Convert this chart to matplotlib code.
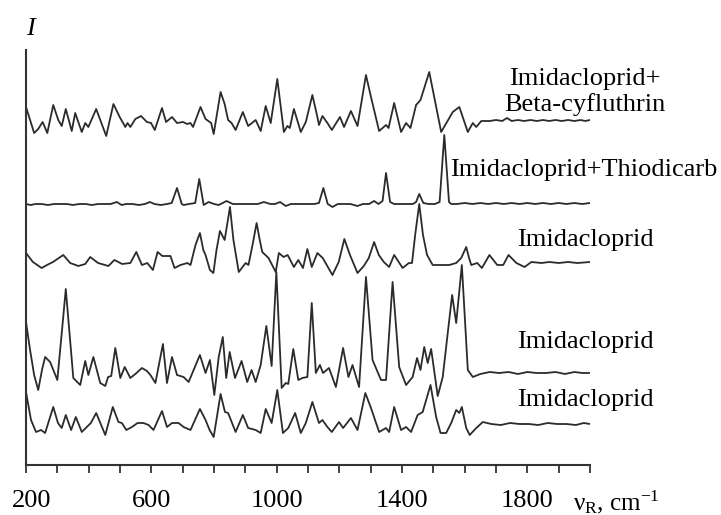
import matplotlib
matplotlib.use("Agg")
import matplotlib.pyplot as plt
from matplotlib.transforms import ScaledTranslation

plt.rcParams['font.family'] = ['Liberation Serif', 'DejaVu Serif']
plt.rcParams['mathtext.fontset'] = 'custom'
plt.rcParams['mathtext.rm'] = 'Liberation Serif'
plt.rcParams['mathtext.it'] = 'Liberation Serif:italic'

# Raman shift (cm-1) and intensity (arb. units), top to bottom
beta_w = [200, 226, 239, 253, 268, 287, 303, 314, 327, 346, 357, 378, 389, 399, 424, 456, 479, 499,
          517, 524, 533, 549, 567, 586, 599, 611, 634, 647, 666, 682, 701, 714, 725, 733, 757, 773,
          791, 799, 821, 834, 845, 856, 869, 892, 909, 933, 949, 965, 981, 1002, 1023, 1034, 1042,
          1055, 1077, 1093, 1114, 1130, 1135, 1146, 1162, 1176, 1202, 1215, 1237, 1258, 1285, 1301,
          1327, 1349, 1357, 1375, 1397, 1413, 1427, 1445, 1459, 1487, 1525, 1562, 1583, 1610, 1626,
          1637, 1653, 1680, 1700, 1720, 1735, 1750, 1770, 1790, 1810, 1830, 1850, 1870, 1890, 1910,
          1930, 1950, 1970, 1985, 2000]
beta_i = [30, 4, 8, 15, 4, 32, 17, 11, 28, 6, 24, 5, 14, 10, 28, 1, 33, 20,
          10, 14, 10, 18, 21, 15, 14, 7, 29, 15, 20, 14, 15, 13, 14, 10, 30, 18,
          14, 3, 45, 33, 17, 14, 7, 25, 11, 17, 6, 31, 14, 58, 5, 11, 9,
          28, 5, 15, 42, 20, 12, 21, 14, 7, 20, 10, 26, 11, 62, 40,
          6, 12, 9, 34, 5, 14, 9, 32, 37, 65, 5, 25, 30, 5, 14,
          10, 16, 16, 17, 16, 19, 16, 17, 16, 17, 16, 17, 16, 17, 16,
          17, 16, 17, 16, 17]

thio_w = [200, 215, 230, 250, 270, 290, 310, 330, 350, 370, 390, 410, 430, 450, 470, 490, 505, 520,
          540, 560, 580, 595, 610, 630, 650, 665, 682, 697, 703, 720, 740, 753, 767, 783, 800, 815,
          840, 860, 880, 900, 920, 940, 959, 980, 995, 1011, 1029, 1045, 1060, 1080, 1100, 1120,
          1135, 1149, 1163, 1178, 1195, 1215, 1235, 1258, 1275, 1295, 1311, 1325, 1338, 1349, 1362,
          1375, 1395, 1415, 1435, 1445, 1455, 1468, 1485, 1505, 1520, 1535, 1550, 1557, 1575, 1600,
          1625, 1650, 1675, 1700, 1725, 1750, 1775, 1800, 1825, 1850, 1875, 1900, 1925, 1950, 1975,
          2000]
thio_i = [3, 2, 3, 3, 2, 3, 3, 3, 2, 3, 3, 2, 3, 3, 3, 5, 2, 3,
          3, 2, 3, 5, 3, 2, 3, 4, 19, 3, 2, 3, 4, 28, 2, 5, 3, 2,
          6, 3, 3, 3, 3, 3, 5, 3, 3, 5, 1, 3, 3, 3, 3, 3,
          4, 19, 3, 0, 3, 3, 3, 1, 3, 3, 6, 3, 6, 34, 5,
          3, 3, 3, 3, 5, 13, 4, 3, 3, 5, 72, 5, 3, 3, 4,
          3, 4, 3, 4, 3, 4, 3, 4, 3, 4, 3, 4, 3, 4, 3,
          4]

imid1_w = [200, 222, 250, 267, 286, 319, 341, 367, 389, 405, 430, 463, 482, 507, 533, 552, 570, 587,
           605, 620, 635, 661, 674, 693, 715, 725, 741, 755, 766, 773, 787, 798, 808, 819, 834, 851,
           862, 879, 901, 910, 923, 936, 946, 954, 974, 997, 1007, 1022, 1035, 1055, 1069, 1084,
           1098, 1112, 1130, 1147, 1178, 1198, 1216, 1234, 1258, 1278, 1294, 1311, 1326, 1342, 1359,
           1375, 1402, 1422, 1432, 1442, 1455, 1467, 1480, 1498, 1515, 1551, 1573, 1589, 1605, 1614,
           1621, 1640, 1655, 1679, 1704, 1723, 1740, 1765, 1791, 1813, 1845, 1870, 1900, 1930, 1960,
           2000]
imid1_i = [23, 14, 8, 11, 14, 21, 13, 10, 12, 19, 13, 10, 16, 12, 13, 24, 11, 13,
           6, 24, 20, 20, 8, 11, 13, 11, 31, 43, 26, 21, 6, 3, 26, 45, 36, 69,
           36, 4, 13, 11, 31, 53, 36, 24, 18, 4, 23, 19, 21, 9, 16, 8,
           27, 9, 23, 18, 1, 14, 37, 21, 3, 10, 18, 34, 21, 14, 9,
           21, 8, 13, 13, 41, 72, 41, 21, 11, 11, 11, 13, 18, 29, 18,
           11, 13, 8, 21, 11, 11, 21, 13, 9, 14, 13, 14, 13, 14, 13,
           14]

imid2_w = [200, 213, 226, 239, 251, 261, 277, 300, 315, 327, 338, 351, 373, 389, 399, 415, 437, 453,
           462, 472, 485, 501, 515, 533, 549, 570, 586, 597, 613, 637, 650, 666, 682, 703, 719, 735,
           755, 773, 787, 801, 815, 828, 839, 850, 867, 888, 906, 920, 933, 949, 967, 984, 999,
           1016, 1029, 1037, 1053, 1069, 1082, 1098, 1112, 1125, 1138, 1148, 1167, 1189, 1212, 1229,
           1242, 1263, 1285, 1306, 1333, 1349, 1370, 1391, 1413, 1434, 1448, 1459, 1471, 1482, 1493,
           1514, 1530, 1546, 1560, 1573, 1591, 1610, 1626, 1650, 1680, 1710, 1740, 1770, 1800, 1830,
           1860, 1890, 1920, 1950, 1975, 2000]
imid2_i = [75, 47, 22, 7, 27, 40, 35, 17, 67, 108, 67, 19, 12, 36, 22, 40, 14, 11,
           20, 21, 49, 19, 30, 19, 23, 29, 26, 22, 14, 53, 14, 40, 22, 20, 15, 27,
           42, 24, 37, 2, 40, 60, 19, 45, 19, 36, 15, 27, 15, 32, 71, 31, 125,
           9, 14, 13, 48, 17, 19, 20, 94, 24, 32, 24, 29, 10, 49, 20,
           32, 10, 120, 37, 17, 17, 115, 30, 12, 20, 39, 27, 50, 34, 48,
           1, 20, 64, 102, 74, 132, 27, 20, 23, 25, 24, 25, 23, 25, 24,
           24, 25, 23, 25, 24, 24]

imid3_w = [200, 216, 232, 248, 261, 287, 302, 314, 327, 344, 359, 378, 394, 407, 424, 453, 477, 495,
           506, 520, 538, 556, 575, 591, 607, 634, 650, 666, 687, 703, 725, 755, 773, 786, 799, 821,
           835, 845, 869, 892, 909, 933, 949, 965, 984, 1002, 1020, 1037, 1059, 1077, 1093, 1114,
           1135, 1146, 1162, 1176, 1199, 1212, 1237, 1258, 1283, 1301, 1327, 1349, 1359, 1375, 1397,
           1413, 1429, 1450, 1466, 1491, 1509, 1523, 1541, 1557, 1573, 1583, 1591, 1605, 1616, 1637,
           1658, 1685, 1715, 1745, 1775, 1805, 1835, 1865, 1895, 1925, 1955, 1980, 2000]
imid3_i = [46, 18, 6, 8, 5, 31, 15, 10, 23, 8, 21, 6, 11, 15, 25, 3, 31, 16,
           15, 8, 11, 15, 15, 13, 8, 27, 11, 15, 15, 11, 8, 29, 18, 8, 1, 44,
           26, 25, 6, 23, 10, 8, 5, 29, 15, 48, 5, 10, 25, 5, 15, 36,
           15, 18, 11, 6, 16, 10, 20, 8, 45, 30, 6, 10, 6, 31, 8,
           11, 6, 23, 26, 53, 21, 5, 5, 15, 28, 25, 31, 10, 3, 10,
           16, 14, 13, 15, 14, 14, 13, 15, 14, 14, 13, 15, 14]

labels = ['Imidacloprid+\nBeta-cyfluthrin', 'Imidacloprid+Thiodicarb',
          'Imidacloprid', 'Imidacloprid', 'Imidacloprid']

spectra = [(beta_w, beta_i), (thio_w, thio_i), (imid1_w, imid1_i),
           (imid2_w, imid2_i), (imid3_w, imid3_i)]
offsets = [328, 258, 189, 68, 27]
# label anchor (figure pixels): x centre, baseline of last line
label_pos = [(585, 111), (584, 176), (585, 246), (585, 348), (585, 406)]

W, H = 721, 515
fig = plt.figure(figsize=(W / 100, H / 100), dpi=100)
ax = fig.add_axes([26 / W, 50 / H, 564 / W, 415 / H])

col = '#2b2b2b'
for (w, inten), off in zip(spectra, offsets):
    ax.plot(w, [v + off for v in inten], color=col, lw=1.3,
            solid_joinstyle='round', solid_capstyle='round')

ax.set_xlim(200, 2000)
ax.set_ylim(0, 415)
for s in ['top', 'right']:
    ax.spines[s].set_visible(False)
for s in ['left', 'bottom']:
    ax.spines[s].set_color('#333333')
    ax.spines[s].set_linewidth(1.5)
ax.set_yticks([])
ticks = list(range(200, 2001, 100))
ax.set_xticks(ticks)
ax.set_xticklabels([str(t) if t in (200, 600, 1000, 1400, 1800) else '' for t in ticks])
ax.tick_params(axis='x', direction='out', length=6, width=1.3, color='#333333',
               labelsize=19, pad=12)
# first label sits a little to the right of its tick in the original
lab0 = ax.get_xticklabels()[0]
lab0.set_transform(lab0.get_transform() + ScaledTranslation(6 / 100, 0, fig.dpi_scale_trans))

for lab, (x, y) in zip(labels, label_pos):
    fig.text(x / W, 1 - y / H, lab, ha='center', va='baseline', fontsize=19,
             linespacing=1.15, multialignment='center')

fig.text(26 / W, 1 - 35 / H, 'I', fontsize=19, style='italic', ha='left', va='baseline')
fig.text(573 / W, 1 - 510 / H, r'$\mathrm{\nu}_\mathrm{R}$, cm$^{-1}$', fontsize=18,
         ha='left', va='baseline')

fig.savefig('out.png', dpi=100)
